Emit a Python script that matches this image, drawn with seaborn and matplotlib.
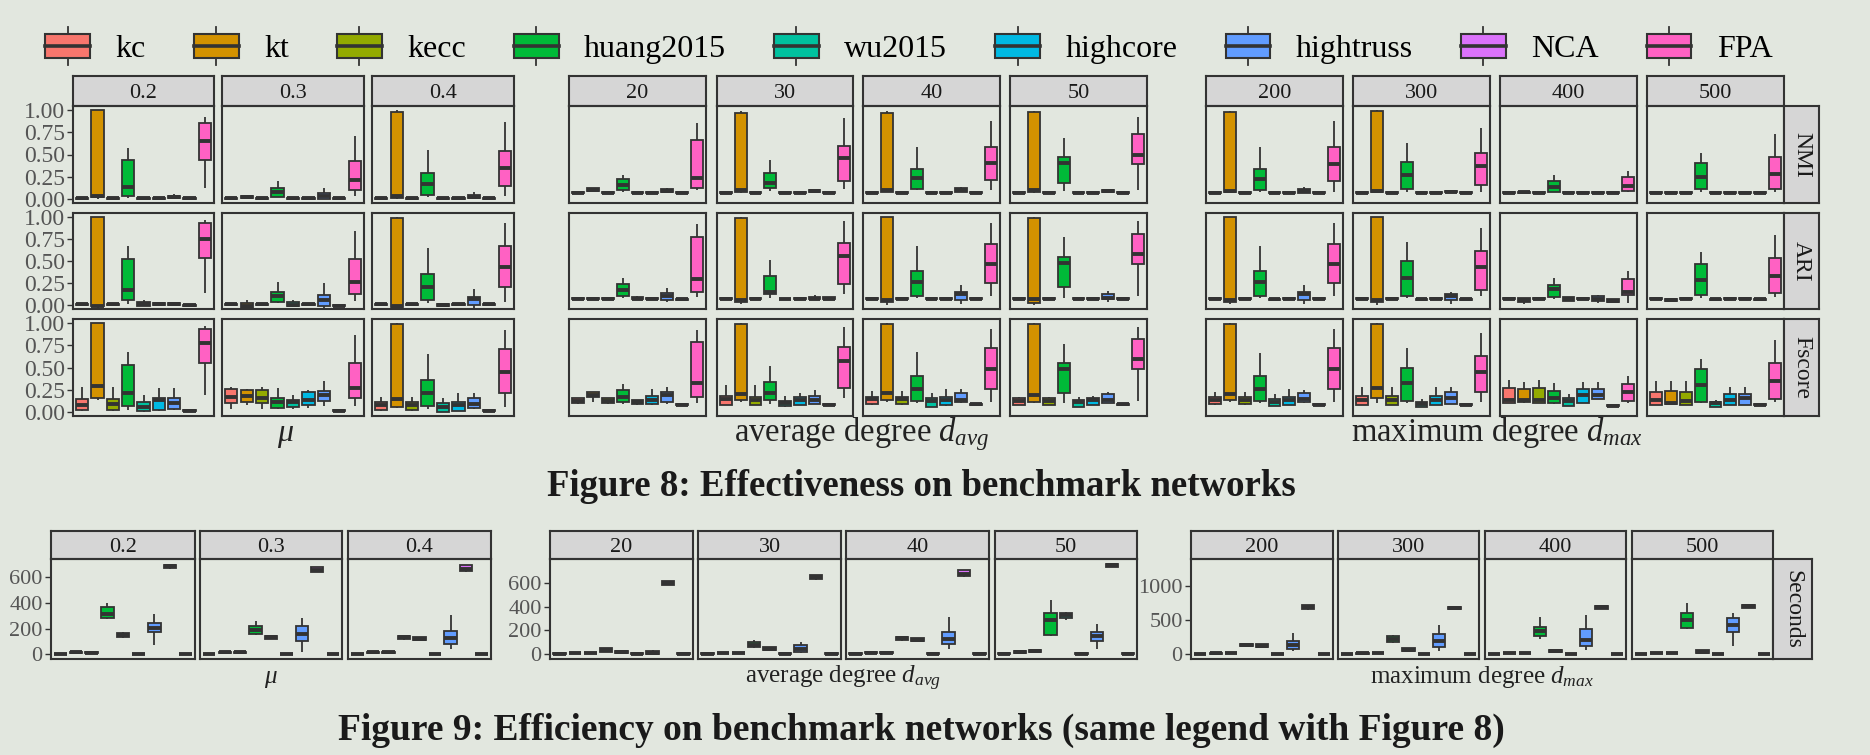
import numpy as np
import pandas as pd
import matplotlib
matplotlib.use("Agg")
import matplotlib.pyplot as plt
import seaborn as sns
from matplotlib.legend_handler import HandlerBase
from matplotlib.patches import Rectangle, Patch
from matplotlib.lines import Line2D

# ---------------- data ----------------
methods = ["kc", "kt", "kecc", "huang2015", "wu2015", "highcore", "hightruss", "NCA", "FPA"]
colors = ["#F8766D", "#D39200", "#93AA00", "#00BA38", "#00C19F", "#00B9E3", "#619CFF", "#DB72FB", "#FF61C3"]
mu_levels = ["0.2", "0.3", "0.4"]
davg_levels = ["20", "30", "40", "50"]
dmax_levels = ["200", "300", "400", "500"]
metrics = ["NMI", "ARI", "Fscore"]
score_ticks = [0.0, 0.25, 0.50, 0.75, 1.00]
score_ticklabels = ["0.00", "0.25", "0.50", "0.75", "1.00"]
sec_ticks_mu = [0, 200, 400, 600]
sec_ticks_davg = [0, 200, 400, 600]
sec_ticks_dmax = [0, 500, 1000]

# each box: (lower whisker, Q1, median, Q3, upper whisker)
Z = (0.0, 0.0, 0.004, 0.01, 0.012)          # near-zero score
F = (0.06, 0.063, 0.068, 0.073, 0.078)      # flat score ~0.07
S0 = (0, 0, 2, 5, 6)                        # near-zero seconds

NMI_MU = [
    [Z, (0, 0.015, 0.03, 1.0, 1.0), Z, (0.01, 0.034, 0.135, 0.436, 0.575), Z, Z, (0, 0.005, 0.02, 0.03, 0.05), Z, (0.117, 0.436, 0.65, 0.857, 0.925)],
    [Z, (0.005, 0.01, 0.015, 0.025, 0.03), Z, (0.015, 0.02, 0.08, 0.117, 0.2), Z, Z, (0, 0.0, 0.03, 0.06, 0.12), Z, (0.03, 0.1, 0.21, 0.425, 0.71)],
    [Z, (0, 0.01, 0.03, 0.98, 1.0), Z, (0.02, 0.04, 0.16, 0.285, 0.55), Z, Z, (0, 0.005, 0.02, 0.04, 0.07), Z, (0.03, 0.14, 0.35, 0.545, 0.87)],
]
ARI_MU = [
    [Z, (-0.04, -0.02, -0.01, 1.0, 1.0), Z, (0.01, 0.057, 0.17, 0.52, 0.67), (-0.02, -0.01, 0.005, 0.03, 0.057), (0, 0.0, 0.01, 0.02, 0.025), (0, 0.0, 0.01, 0.02, 0.025), (-0.015, -0.01, -0.005, 0.0, 0.005), (0.13, 0.535, 0.755, 0.93, 0.97)],
    [Z, (-0.05, -0.04, -0.01, 0.02, 0.057), Z, (0.02, 0.026, 0.1, 0.143, 0.26), (-0.03, -0.02, 0.0, 0.03, 0.057), (0, 0, 0.005, 0.01, 0.012), (-0.04, -0.01, 0.05, 0.113, 0.245), (-0.02, -0.015, -0.01, -0.005, 0.0), (0.045, 0.12, 0.26, 0.52, 0.84)],
    [Z, (-0.04, -0.03, -0.02, 0.99, 1.0), Z, (0.02, 0.05, 0.2, 0.35, 0.65), (-0.02, -0.015, 0.0, 0.01, 0.02), Z, (-0.04, 0.0, 0.065, 0.087, 0.18), Z, (0.035, 0.2, 0.435, 0.67, 0.93)],
]
FS_MU = [
    [(0.01, 0.02, 0.075, 0.143, 0.275), (0.13, 0.15, 0.29, 1.0, 1.0), (0.01, 0.02, 0.087, 0.14, 0.275), (0.02, 0.064, 0.21, 0.53, 0.68), (0.0, 0.004, 0.05, 0.11, 0.19), (0.01, 0.02, 0.13, 0.15, 0.265), (0.02, 0.03, 0.094, 0.15, 0.265), (0, 0.005, 0.01, 0.02, 0.025), (0.19, 0.55, 0.78, 0.94, 0.97)],
    [(0.03, 0.094, 0.17, 0.256, 0.275), (0.075, 0.113, 0.18, 0.245, 0.26), (0.03, 0.094, 0.15, 0.245, 0.275), (0.03, 0.045, 0.106, 0.15, 0.265), (0.03, 0.05, 0.113, 0.13, 0.19), (0.04, 0.075, 0.13, 0.226, 0.24), (0.068, 0.12, 0.19, 0.234, 0.347), (0, 0.005, 0.01, 0.02, 0.025), (0.064, 0.158, 0.27, 0.547, 0.87)],
    [(0.01, 0.02, 0.075, 0.106, 0.17), (0.04, 0.05, 0.14, 0.99, 1.0), (0.01, 0.02, 0.075, 0.106, 0.17), (0.03, 0.068, 0.21, 0.36, 0.65), (0, 0.0, 0.05, 0.094, 0.15), (0.005, 0.011, 0.075, 0.106, 0.215), (0.03, 0.038, 0.083, 0.15, 0.215), (0, 0.005, 0.01, 0.02, 0.025), (0.05, 0.215, 0.45, 0.705, 0.93)],
]

NMI_DAVG = [
    [F, (0.09, 0.09, 0.1, 0.12, 0.12), F, (0.08, 0.1, 0.15, 0.22, 0.27), F, F, (0.075, 0.075, 0.09, 0.11, 0.12), F, (0.095, 0.12, 0.23, 0.66, 0.86)],
    [F, (0.065, 0.07, 0.1, 0.97, 0.99), F, (0.09, 0.12, 0.18, 0.29, 0.44), F, F, (0.07, 0.07, 0.085, 0.1, 0.11), F, (0.11, 0.2, 0.46, 0.6, 0.91)],
    [F, (0.07, 0.08, 0.1, 0.975, 0.99), F, (0.1, 0.11, 0.23, 0.34, 0.58), F, F, (0.07, 0.07, 0.1, 0.12, 0.135), F, (0.1, 0.21, 0.4, 0.58, 0.885)],
    [F, (0.065, 0.07, 0.1, 0.98, 0.99), F, (0.09, 0.18, 0.4, 0.47, 0.69), F, F, (0.07, 0.075, 0.085, 0.1, 0.105), F, (0.1, 0.39, 0.5, 0.73, 0.92)],
]
ARI_DAVG = [
    [F, F, F, (0.08, 0.095, 0.17, 0.24, 0.3), (0.055, 0.06, 0.068, 0.09, 0.095), F, (0.026, 0.057, 0.1, 0.13, 0.19), (0.05, 0.055, 0.06, 0.065, 0.068), (0.083, 0.15, 0.29, 0.78, 0.92)],
    [F, (0.01, 0.03, 0.057, 0.99, 1.0), F, (0.075, 0.12, 0.15, 0.33, 0.51), (0.055, 0.06, 0.065, 0.07, 0.075), F, (0.05, 0.06, 0.07, 0.09, 0.11), (0.06, 0.06, 0.07, 0.09, 0.09), (0.12, 0.234, 0.56, 0.71, 0.96)],
    [F, (0.0, 0.03, 0.057, 1.0, 1.0), F, (0.08, 0.095, 0.26, 0.39, 0.67), F, F, (0.01, 0.057, 0.125, 0.15, 0.226), F, (0.095, 0.25, 0.47, 0.69, 0.93)],
    [F, (0.0, 0.02, 0.065, 0.99, 1.0), F, (0.08, 0.2, 0.48, 0.55, 0.77), F, F, (0.03, 0.06, 0.08, 0.12, 0.16), F, (0.095, 0.46, 0.585, 0.81, 0.96)],
]
FS_DAVG = [
    [(0.083, 0.094, 0.125, 0.15, 0.15), (0.113, 0.16, 0.19, 0.22, 0.22), (0.083, 0.094, 0.125, 0.15, 0.15), (0.087, 0.106, 0.16, 0.245, 0.31), (0.075, 0.083, 0.113, 0.13, 0.13), (0.075, 0.087, 0.13, 0.18, 0.26), (0.083, 0.113, 0.19, 0.22, 0.28), (0.07, 0.075, 0.08, 0.09, 0.095), (0.094, 0.16, 0.32, 0.79, 0.93)],
    [(0.075, 0.075, 0.143, 0.177, 0.3), (0.113, 0.13, 0.2, 0.99, 1.0), (0.075, 0.075, 0.13, 0.17, 0.3), (0.087, 0.13, 0.21, 0.34, 0.52), (0.057, 0.064, 0.1, 0.125, 0.18), (0.075, 0.075, 0.13, 0.16, 0.21), (0.083, 0.087, 0.13, 0.177, 0.245), (0.065, 0.07, 0.08, 0.09, 0.095), (0.15, 0.27, 0.57, 0.73, 0.96)],
    [(0.075, 0.083, 0.143, 0.17, 0.234), (0.106, 0.13, 0.215, 0.99, 1.0), (0.075, 0.083, 0.14, 0.162, 0.234), (0.094, 0.125, 0.26, 0.4, 0.68), (0.057, 0.057, 0.12, 0.15, 0.21), (0.068, 0.075, 0.13, 0.17, 0.26), (0.094, 0.106, 0.13, 0.21, 0.26), (0.07, 0.075, 0.083, 0.09, 0.095), (0.113, 0.26, 0.48, 0.72, 0.94)],
    [(0.075, 0.075, 0.12, 0.15, 0.17), (0.094, 0.106, 0.19, 0.99, 1.0), (0.075, 0.075, 0.12, 0.15, 0.17), (0.094, 0.215, 0.48, 0.555, 0.77), (0.057, 0.057, 0.106, 0.13, 0.162), (0.075, 0.075, 0.13, 0.15, 0.177), (0.094, 0.1, 0.13, 0.2, 0.226), (0.07, 0.075, 0.083, 0.09, 0.095), (0.12, 0.48, 0.6, 0.82, 0.96)],
]

NMI_DMAX = [
    [F, (0.07, 0.07, 0.09, 0.98, 0.99), F, (0.08, 0.1, 0.22, 0.33, 0.58), F, F, (0.065, 0.065, 0.09, 0.11, 0.13), F, (0.08, 0.2, 0.39, 0.58, 0.88)],
    [F, (0.065, 0.07, 0.09, 0.995, 1.0), F, (0.08, 0.11, 0.27, 0.42, 0.63), F, F, (0.07, 0.07, 0.08, 0.09, 0.09), F, (0.08, 0.15, 0.37, 0.52, 0.8)],
    [F, (0.06, 0.065, 0.07, 0.08, 0.08), F, (0.07, 0.08, 0.135, 0.2, 0.27), F, F, F, F, (0.075, 0.09, 0.14, 0.25, 0.31)],
    [F, F, F, (0.08, 0.11, 0.25, 0.4, 0.52), F, F, F, F, (0.08, 0.11, 0.28, 0.47, 0.73)],
]
ARI_DMAX = [
    [F, (0.01, 0.026, 0.057, 1.0, 1.0), F, (0.08, 0.1, 0.26, 0.39, 0.67), (0.055, 0.057, 0.062, 0.068, 0.07), F, (0.01, 0.057, 0.12, 0.15, 0.226), F, (0.095, 0.25, 0.47, 0.7, 0.94)],
    [F, (0.0, 0.026, 0.057, 1.0, 1.0), F, (0.08, 0.1, 0.31, 0.5, 0.72), (0.055, 0.057, 0.062, 0.068, 0.07), F, (0.01, 0.057, 0.094, 0.125, 0.15), (0.055, 0.057, 0.062, 0.068, 0.07), (0.095, 0.17, 0.43, 0.61, 0.88)],
    [F, (0.01, 0.03, 0.05, 0.075, 0.08), F, (0.07, 0.083, 0.18, 0.226, 0.31), (0.04, 0.045, 0.06, 0.09, 0.09), F, (0.02, 0.045, 0.07, 0.094, 0.11), (0.02, 0.025, 0.04, 0.06, 0.065), (0.02, 0.105, 0.15, 0.29, 0.38)],
    [F, (0.035, 0.04, 0.05, 0.06, 0.065), F, (0.08, 0.105, 0.28, 0.47, 0.6), (0.055, 0.057, 0.062, 0.068, 0.07), F, F, (0.055, 0.057, 0.062, 0.068, 0.07), (0.09, 0.13, 0.33, 0.535, 0.8)],
]
FS_DMAX = [
    [(0.075, 0.083, 0.13, 0.162, 0.226), (0.106, 0.13, 0.2, 0.99, 1.0), (0.075, 0.083, 0.13, 0.162, 0.226), (0.094, 0.12, 0.26, 0.4, 0.67), (0.064, 0.064, 0.113, 0.143, 0.2), (0.075, 0.075, 0.13, 0.162, 0.26), (0.094, 0.106, 0.14, 0.21, 0.25), (0.065, 0.07, 0.08, 0.09, 0.095), (0.113, 0.26, 0.48, 0.72, 0.94)],
    [(0.075, 0.075, 0.13, 0.177, 0.28), (0.094, 0.15, 0.27, 0.99, 1.0), (0.075, 0.075, 0.13, 0.177, 0.28), (0.1, 0.125, 0.32, 0.5, 0.72), (0.05, 0.057, 0.09, 0.113, 0.14), (0.075, 0.075, 0.13, 0.177, 0.28), (0.083, 0.087, 0.15, 0.22, 0.28), (0.065, 0.07, 0.08, 0.09, 0.095), (0.113, 0.22, 0.445, 0.63, 0.89)],
    [(0.094, 0.1, 0.13, 0.27, 0.36), (0.094, 0.106, 0.13, 0.26, 0.33), (0.094, 0.1, 0.13, 0.27, 0.36), (0.087, 0.1, 0.15, 0.234, 0.32), (0.068, 0.068, 0.12, 0.15, 0.2), (0.094, 0.1, 0.19, 0.26, 0.33), (0.14, 0.14, 0.19, 0.26, 0.33), (0.06, 0.065, 0.068, 0.075, 0.08), (0.094, 0.12, 0.22, 0.31, 0.4)],
    [(0.075, 0.075, 0.13, 0.22, 0.35), (0.075, 0.083, 0.1, 0.234, 0.35), (0.075, 0.075, 0.12, 0.22, 0.35), (0.094, 0.106, 0.3, 0.48, 0.6), (0.057, 0.057, 0.094, 0.113, 0.13), (0.075, 0.075, 0.13, 0.2, 0.275), (0.075, 0.075, 0.15, 0.2, 0.275), (0.065, 0.07, 0.08, 0.09, 0.095), (0.113, 0.14, 0.35, 0.55, 0.81)],
]

SEC_MU = [
    [S0, (8, 10, 14, 18, 20), (8, 10, 12, 16, 18), (279, 284, 315, 373, 397), (128, 133, 151, 167, 170), S0, (73, 170, 209, 248, 313), (668, 673, 686, 699, 704), S0],
    [S0, (8, 10, 14, 18, 20), (8, 10, 14, 18, 20), (151, 157, 190, 219, 261), (120, 123, 133, 143, 146), S0, (21, 107, 157, 224, 284), (640, 644, 660, 681, 684), S0],
    [S0, (8, 10, 14, 18, 20), (8, 10, 14, 18, 20), (112, 117, 133, 143, 146), (105, 110, 120, 133, 136), S0, (44, 83, 128, 180, 305), (645, 652, 668, 697, 700), S0],
]
SEC_DAVG = [
    [S0, (5, 6, 8, 10, 12), (5, 6, 8, 10, 12), (15, 17, 34, 51, 55), (6, 6, 17, 28, 28), S0, (3, 3, 12, 28, 35), (584, 586, 603, 617, 620), S0],
    [S0, (5, 6, 8, 10, 12), (5, 6, 8, 10, 12), (55, 59, 79, 99, 121), (35, 37, 45, 62, 62), S0, (8, 17, 45, 73, 99), (628, 634, 648, 665, 670), S0],
    [S0, (8, 10, 12, 16, 18), (8, 10, 12, 16, 18), (110, 115, 132, 146, 148), (100, 107, 121, 132, 132), S0, (45, 85, 127, 183, 313), (648, 656, 676, 707, 710), S0],
    [S0, (10, 12, 20, 28, 30), (12, 14, 22, 30, 32), (155, 163, 290, 346, 459), (284, 304, 332, 346, 352), S0, (42, 113, 149, 186, 254), (732, 735, 749, 760, 763), S0],
]
SEC_DMAX = [
    [S0, (5, 6, 10, 14, 15), (6, 8, 12, 16, 18), (105, 112, 132, 151, 155), (95, 102, 122, 141, 145), S0, (39, 78, 127, 185, 307), (650, 659, 698, 722, 727), S0],
    [S0, (5, 6, 10, 14, 15), (6, 8, 12, 16, 18), (165, 171, 220, 259, 273), (40, 44, 63, 83, 86), S0, (49, 107, 185, 293, 429), (655, 659, 678, 698, 700), S0],
    [S0, (8, 10, 15, 20, 22), (8, 10, 15, 20, 22), (220, 259, 332, 400, 541), (20, 24, 44, 63, 66), S0, (63, 112, 210, 371, 576), (665, 668, 693, 712, 715), S0],
    [S0, (8, 10, 15, 20, 22), (8, 10, 15, 20, 22), (366, 380, 493, 600, 756), (12, 15, 34, 54, 56), S0, (112, 327, 424, 527, 610), (680, 683, 702, 722, 725), S0],
]

# ---------------- long-form table ----------------
rows = []
def add_rows(fig_id, group, metric, levels, stats):
    for lev, boxes in zip(levels, stats):
        for m, st in zip(methods, boxes):
            for v in st:
                rows.append((fig_id, group, metric, lev, m, float(v)))

add_rows(8, "mu", "NMI", mu_levels, NMI_MU)
add_rows(8, "mu", "ARI", mu_levels, ARI_MU)
add_rows(8, "mu", "Fscore", mu_levels, FS_MU)
add_rows(8, "davg", "NMI", davg_levels, NMI_DAVG)
add_rows(8, "davg", "ARI", davg_levels, ARI_DAVG)
add_rows(8, "davg", "Fscore", davg_levels, FS_DAVG)
add_rows(8, "dmax", "NMI", dmax_levels, NMI_DMAX)
add_rows(8, "dmax", "ARI", dmax_levels, ARI_DMAX)
add_rows(8, "dmax", "Fscore", dmax_levels, FS_DMAX)
add_rows(9, "mu", "Seconds", mu_levels, SEC_MU)
add_rows(9, "davg", "Seconds", davg_levels, SEC_DAVG)
add_rows(9, "dmax", "Seconds", dmax_levels, SEC_DMAX)
df = pd.DataFrame(rows, columns=["fig", "group", "metric", "level", "method", "value"])

# ---------------- style ----------------
BG = "#E2E7DF"
EDGE = "#333333"
STRIP = "#D6D6D6"
plt.rcParams["font.family"] = ["Liberation Serif", "DejaVu Serif"]
plt.rcParams["mathtext.fontset"] = "custom"
plt.rcParams["mathtext.rm"] = "Liberation Serif"
plt.rcParams["mathtext.it"] = "Liberation Serif:italic"
plt.rcParams["mathtext.bf"] = "Liberation Serif:bold"

W, H = 1870, 755
fig = plt.figure(figsize=(W / 100, H / 100), dpi=100)
fig.patch.set_facecolor(BG)

def add_ax(x0, x1, y0, y1):
    return fig.add_axes([x0 / W, 1 - y1 / H, (x1 - x0) / W, (y1 - y0) / H])

def frame(ax, lw=1.5):
    for sp in ax.spines.values():
        sp.set_color(EDGE)
        sp.set_linewidth(lw)

def strip(x0, x1, y0, y1, text, rot=0, size=16):
    s = add_ax(x0, x1, y0, y1)
    s.set_facecolor(STRIP)
    s.set_xticks([])
    s.set_yticks([])
    frame(s)
    if rot == 0:
        s.text(0.5, 0.5, text, ha="center", va="center_baseline",
               fontsize=size, color="#1A1A1A", transform=s.transAxes)
    else:
        s.text(0.5, 0.5, text, ha="center", va="center", rotation=rot,
               fontsize=size, color="#1A1A1A", transform=s.transAxes)

def panel(x0, x1, y0, y1, sub, ylim, ticks=None, ticklabels=None, tsize=16):
    ax = add_ax(x0, x1, y0, y1)
    ax.set_facecolor("none")
    sns.boxplot(data=sub, x="method", y="value", hue="method", order=methods,
                hue_order=methods, palette=colors, saturation=1, whis=np.inf,
                width=0.8, linewidth=1.3, linecolor=EDGE, showcaps=False,
                showfliers=False, medianprops=dict(linewidth=2.8, color=EDGE),
                legend=False, dodge=False, ax=ax)
    ax.set_xlim(-0.6, 8.6)
    ax.set_ylim(*ylim)
    ax.set_xticks([])
    ax.set_xlabel("")
    ax.set_ylabel("")
    if ticks is None:
        ax.set_yticks([])
    else:
        ax.set_yticks(ticks)
        ax.set_yticklabels(ticklabels if ticklabels else [str(t) for t in ticks])
        ax.tick_params(axis="y", length=4, width=1.0, color=EDGE, labelsize=tsize,
                       labelcolor="#555555", pad=2)
    frame(ax)
    return ax

# ---------------- Figure 8 ----------------
f8_rows = [(106, 203), (213, 309), (319, 416)]
f8_strip = (76, 106)
f8_groups = [
    ("mu", mu_levels, [(73, 214), (222, 364), (372, 514)]),
    ("davg", davg_levels, [(569, 706), (717, 853), (863, 1000), (1010, 1147)]),
    ("dmax", dmax_levels, [(1206, 1343), (1353, 1490), (1500, 1637), (1647, 1784)]),
]
for gi, (g, levels, xs) in enumerate(f8_groups):
    for lev, (x0, x1) in zip(levels, xs):
        strip(x0, x1, f8_strip[0], f8_strip[1], lev, size=16)
        for metric, (y0, y1) in zip(metrics, f8_rows):
            sub = df[(df.fig == 8) & (df.group == g) & (df.metric == metric) & (df.level == lev)]
            if gi == 0 and lev == levels[0]:
                panel(x0, x1, y0, y1, sub, (-0.05, 1.05), score_ticks, score_ticklabels, 17)
            else:
                panel(x0, x1, y0, y1, sub, (-0.05, 1.05))
for metric, (y0, y1) in zip(metrics, f8_rows):
    strip(1784, 1819, y0, y1, metric, rot=-90, size=17)

f8_base = 1 - 441 / H
fig.text(286 / W, f8_base, r"$\mu$", ha="center", va="baseline", fontsize=23, color="#222222")
fig.text(862 / W, f8_base, r"average degree $d_{avg}$", ha="center", va="baseline", fontsize=23.5, color="#222222")
fig.text(1497 / W, f8_base, r"maximum degree $d_{max}$", ha="center", va="baseline", fontsize=23.5, color="#222222")
fig.text(921 / W, 1 - 496 / H, "Figure 8: Effectiveness on benchmark networks", ha="center", va="baseline",
         fontsize=26.5, fontweight="bold", color="#1A1A1A")

# ---------------- Figure 9 ----------------
f9_panel = (559, 659)
f9_strip = (531, 559)
f9_groups = [
    ("mu", mu_levels, [(51, 195), (200, 342), (348, 491)], (-37, 744), sec_ticks_mu),
    ("davg", davg_levels, [(550, 693), (698, 841), (846, 989), (995, 1137)], (-42, 802), sec_ticks_davg),
    ("dmax", dmax_levels, [(1191, 1333), (1338, 1479), (1485, 1626), (1632, 1773)], (-73, 1397), sec_ticks_dmax),
]
for g, levels, xs, ylim, ticks in f9_groups:
    for lev, (x0, x1) in zip(levels, xs):
        strip(x0, x1, f9_strip[0], f9_strip[1], lev, size=16)
        sub = df[(df.fig == 9) & (df.group == g) & (df.level == lev)]
        if lev == levels[0]:
            panel(x0, x1, f9_panel[0], f9_panel[1], sub, ylim, ticks, None, 16)
        else:
            panel(x0, x1, f9_panel[0], f9_panel[1], sub, ylim)
strip(1773, 1812, f9_panel[0], f9_panel[1], "Seconds", rot=-90, size=17)

f9_base = 1 - 683 / H
fig.text(271 / W, f9_base, r"$\mu$", ha="center", va="baseline", fontsize=18, color="#222222")
fig.text(843 / W, f9_base, r"average degree $d_{avg}$", ha="center", va="baseline", fontsize=18, color="#222222")
fig.text(1482 / W, f9_base, r"maximum degree $d_{max}$", ha="center", va="baseline", fontsize=18, color="#222222")
fig.text(921 / W, 1 - 740 / H, "Figure 9: Efficiency on benchmark networks (same legend with Figure 8)",
         ha="center", va="baseline", fontsize=27, fontweight="bold", color="#1A1A1A")

# ---------------- legend ----------------
class BoxHandler(HandlerBase):
    def create_artists(self, legend, orig_handle, xdescent, ydescent, width, height, fontsize, trans):
        x0, y0 = -xdescent, -ydescent
        fc = orig_handle.get_facecolor()
        wl = Line2D([x0 + width / 2, x0 + width / 2], [y0, y0 + height], color=EDGE, lw=1.3)
        rect = Rectangle((x0, y0 + 0.2 * height), width, 0.6 * height, facecolor=fc,
                         edgecolor=EDGE, lw=1.5)
        med = Line2D([x0, x0 + width], [y0 + height / 2, y0 + height / 2], color=EDGE, lw=2.6)
        for a in (wl, rect, med):
            a.set_transform(trans)
        return [wl, rect, med]

handles = [Patch(facecolor=c, edgecolor=EDGE, label=m) for m, c in zip(methods, colors)]
fig.legend(handles=handles, labels=methods, loc="center", bbox_to_anchor=(909 / W, 1 - 46 / H),
           ncol=9, frameon=False, fontsize=23, handlelength=1.4, handleheight=1.5,
           handletextpad=0.8, columnspacing=1.5, handler_map={Patch: BoxHandler()})

fig.savefig("out.png", dpi=100, facecolor=BG)
